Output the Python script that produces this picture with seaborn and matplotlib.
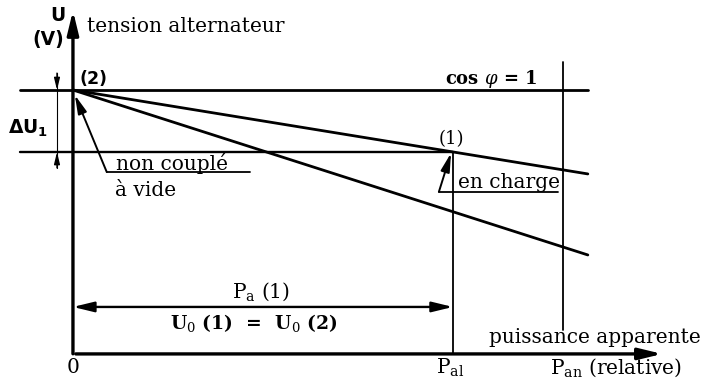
import matplotlib.pyplot as plt
import numpy as np
import pandas as pd
import seaborn as sns

# relative apparent power (P_al = 1) and relative voltage (U0 = 1)
p_al = 1.0
p_an = 1.29
p_end = 1.355
p_start = -0.14
u0 = 1.0
u1 = 0.765
u_end_charge = 0.682
u_end_vide = 0.375

lines = pd.DataFrame(
    {
        "p": [0.0, p_end, 0.0, p_end],
        "u": [u0, u_end_charge, u0, u_end_vide],
        "curve": ["en charge", "en charge", "non couplé", "non couplé"],
    }
)

sns.set_theme(style="white")
plt.rcParams["font.family"] = ["DejaVu Serif"]
plt.rcParams["mathtext.fontset"] = "dejavuserif"
plt.rcParams["text.color"] = "black"

fig = plt.figure(figsize=(7.06, 3.79), dpi=100)
ax = fig.add_axes([0, 0, 1, 1])
ax.set_xlim(-0.192, 1.666)
ax.set_ylim(-0.095, 1.341)
ax.axis("off")

lw = 2.0
sns.lineplot(data=lines, x="p", y="u", units="curve", estimator=None,
             color="black", lw=lw, ax=ax, legend=False)

# construction lines
ax.plot([p_start, p_end], [u0, u0], color="black", lw=lw)
ax.plot([p_start, p_al], [u1, u1], color="black", lw=1.7)
ax.plot([p_al, p_al], [0, u1], color="black", lw=1.3)
ax.plot([p_an, p_an], [0.091, 1.106], color="black", lw=1.3)

head = "-|>,head_length=0.7,head_width=0.17"
# axes arrows
ax.annotate("", xy=(0, 1.311), xytext=(0, -0.01),
            arrowprops=dict(arrowstyle=head, color="black", lw=2.4, mutation_scale=20))
ax.annotate("", xy=(1.558, 0), xytext=(0, 0),
            arrowprops=dict(arrowstyle=head, color="black", lw=2.4, mutation_scale=20))

# delta U1 dimension
ax.plot([-0.042, -0.042], [0.705, 1.064], color="black", lw=0.8)
ax.annotate("", xy=(-0.042, u0), xytext=(-0.042, 1.064),
            arrowprops=dict(arrowstyle=head, color="black", lw=1, mutation_scale=10,
                            shrinkA=0, shrinkB=0))
ax.annotate("", xy=(-0.042, u1), xytext=(-0.042, 0.705),
            arrowprops=dict(arrowstyle=head, color="black", lw=1, mutation_scale=10,
                            shrinkA=0, shrinkB=0))

# P_a(1) double arrow
ax.annotate("", xy=(0, 0.178), xytext=(p_al, 0.178),
            arrowprops=dict(arrowstyle="<|-|>,head_length=0.7,head_width=0.17", color="black",
                            lw=1.7, mutation_scale=18, shrinkA=0, shrinkB=0))

# pointers
ax.annotate("", xy=(0.005, 0.981), xytext=(0.089, 0.689),
            arrowprops=dict(arrowstyle=head, color="black", lw=1.4, mutation_scale=16,
                            shrinkA=0, shrinkB=0))
ax.plot([0.089, 0.466], [0.689, 0.689], color="black", lw=1.3)
ax.annotate("", xy=(0.995, 0.761), xytext=(0.963, 0.614),
            arrowprops=dict(arrowstyle=head, color="black", lw=1.4, mutation_scale=16,
                            shrinkA=0, shrinkB=0))
ax.plot([0.963, 1.276], [0.614, 0.614], color="black", lw=1.3)

fs = 14.5
sans = ["DejaVu Sans"]
ax.text(-0.039, 1.284, "U", fontsize=13.5, fontweight="bold", family=sans, ha="center", va="center")
ax.text(-0.066, 1.19, "(V)", fontsize=13.5, fontweight="bold", family=sans, ha="center", va="center")
ax.text(0.037, 1.239, "tension alternateur", fontsize=fs, ha="left", va="center")
ax.text(0.053, 1.042, "(2)", fontsize=12.5, fontweight="bold", family=sans, ha="center", va="center")
ax.text(-0.118, 0.856, r"$\mathbf{\Delta U_1}$", fontsize=13.5, math_fontfamily="dejavusans",
        ha="center", va="center")
ax.text(1.1, 1.042, r"cos $\varphi$ = 1", fontsize=13, fontweight="bold", ha="center", va="center")
ax.text(0.997, 0.814, "(1)", fontsize=13, ha="center", va="center")
ax.text(1.147, 0.648, "en charge", fontsize=fs, ha="center", va="center")
ax.text(0.26, 0.723, "non couplé", fontsize=fs, ha="center", va="center")
ax.text(0.11, 0.621, "à vide", fontsize=fs, ha="left", va="center")
ax.text(0.495, 0.235, r"P$_\mathrm{a}$ (1)", fontsize=fs, ha="center", va="center")
ax.text(0.476, 0.117, r"U$_\mathrm{0}$ (1)  =  U$_\mathrm{0}$ (2)", fontsize=13.5,
        fontweight="bold", ha="center", va="center")
ax.text(1.095, 0.061, "puissance apparente", fontsize=fs, ha="left", va="center")
ax.text(0.0, -0.053, "0", fontsize=fs, ha="center", va="center")
ax.text(0.992, -0.053, r"P$_\mathrm{al}$", fontsize=fs, ha="center", va="center")
ax.text(1.255, -0.053, r"P$_\mathrm{an}$ (relative)", fontsize=fs, ha="left", va="center")

fig.savefig("out.png", dpi=100)
